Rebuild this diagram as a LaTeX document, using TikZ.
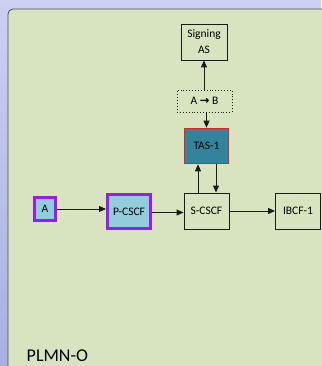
\documentclass[tikz,border=0pt]{standalone}
\usepackage{fontspec}
\setmainfont{Carlito}
\newfontfamily\arrowfont{DejaVu Sans}
\usetikzlibrary{arrows.meta}
\definecolor{bgtop}{HTML}{CCD1F2}
\definecolor{bgbot}{HTML}{A7B0E0}
\definecolor{panel}{HTML}{D8E4BF}
\definecolor{lblue}{HTML}{92CDDC}
\definecolor{teal}{HTML}{31849B}
\definecolor{purp}{HTML}{9B19F5}
\definecolor{redb}{HTML}{F01E1E}
\definecolor{linec}{HTML}{1A1A1A}
\tikzset{
  box/.style={draw=linec, line width=0.9pt, rectangle, inner sep=0pt, align=center,
    font=\fontsize{11.5}{16}\selectfont, text=black},
  pbox/.style={box, draw=purp, line width=3pt, fill=lblue},
  conn/.style={draw=linec, line width=0.9pt, -{Triangle[length=7pt,width=6pt]}},
}
\begin{document}
\begin{tikzpicture}[x=1pt,y=-1pt]
\useasboundingbox (0,0) rectangle (321,366);
\shade[top color=bgtop, bottom color=bgbot] (0,0) rectangle (321,366);
\filldraw[fill=panel, draw=gray!60!black, line width=0.8pt, rounded corners=5pt]
  (8,372) -- (8,9) -- (330,9) -- (330,372) -- cycle;

\node[box, minimum width=46pt, minimum height=36pt] (sig) at (204,42) {Signing\\AS};
\node[box, dotted, minimum width=55pt, minimum height=22pt] (ab) at (204.5,101)
  {A {\arrowfont\bfseries\fontsize{11.5}{12}\selectfont →} B};
\node[box, draw=redb, line width=1.6pt, fill=teal, minimum width=44pt, minimum height=35pt] (tas) at (206.5,146) {TAS-1};
\node[box, minimum width=45pt, minimum height=36pt] (scscf) at (206.5,211) {S-CSCF};
\node[box, minimum width=45pt, minimum height=36pt] (ibcf) at (298,211) {IBCF-1};
\node[pbox, minimum width=21pt, minimum height=23pt] (a) at (45,209) {A};
\node[pbox, minimum width=43pt, minimum height=34pt] (pcscf) at (129,211.5) {P-CSCF};

\node[anchor=base west, font=\fontsize{18}{20}\selectfont, inner sep=0pt] (plmn) at (26.5,361.5) {PLMN-O};

\draw[conn] (a.east) -- (a.east -| pcscf.west);
\draw[conn] ([yshift=-1pt]pcscf.east) -- ([yshift=-1pt]pcscf.east -| scscf.west);
\draw[conn] (scscf.east) -- (ibcf.west);
\draw[conn] ([xshift=-8.5pt]scscf.north) -- ([xshift=-8.5pt]tas.south);
\draw[conn] ([xshift=9.5pt]tas.south) -- ([xshift=9.5pt]scscf.north);
\draw[conn] (ab.south -| tas.north) -- (tas.north);
\draw[conn] (ab.north -| sig.south) -- (sig.south);
\end{tikzpicture}
\end{document}
